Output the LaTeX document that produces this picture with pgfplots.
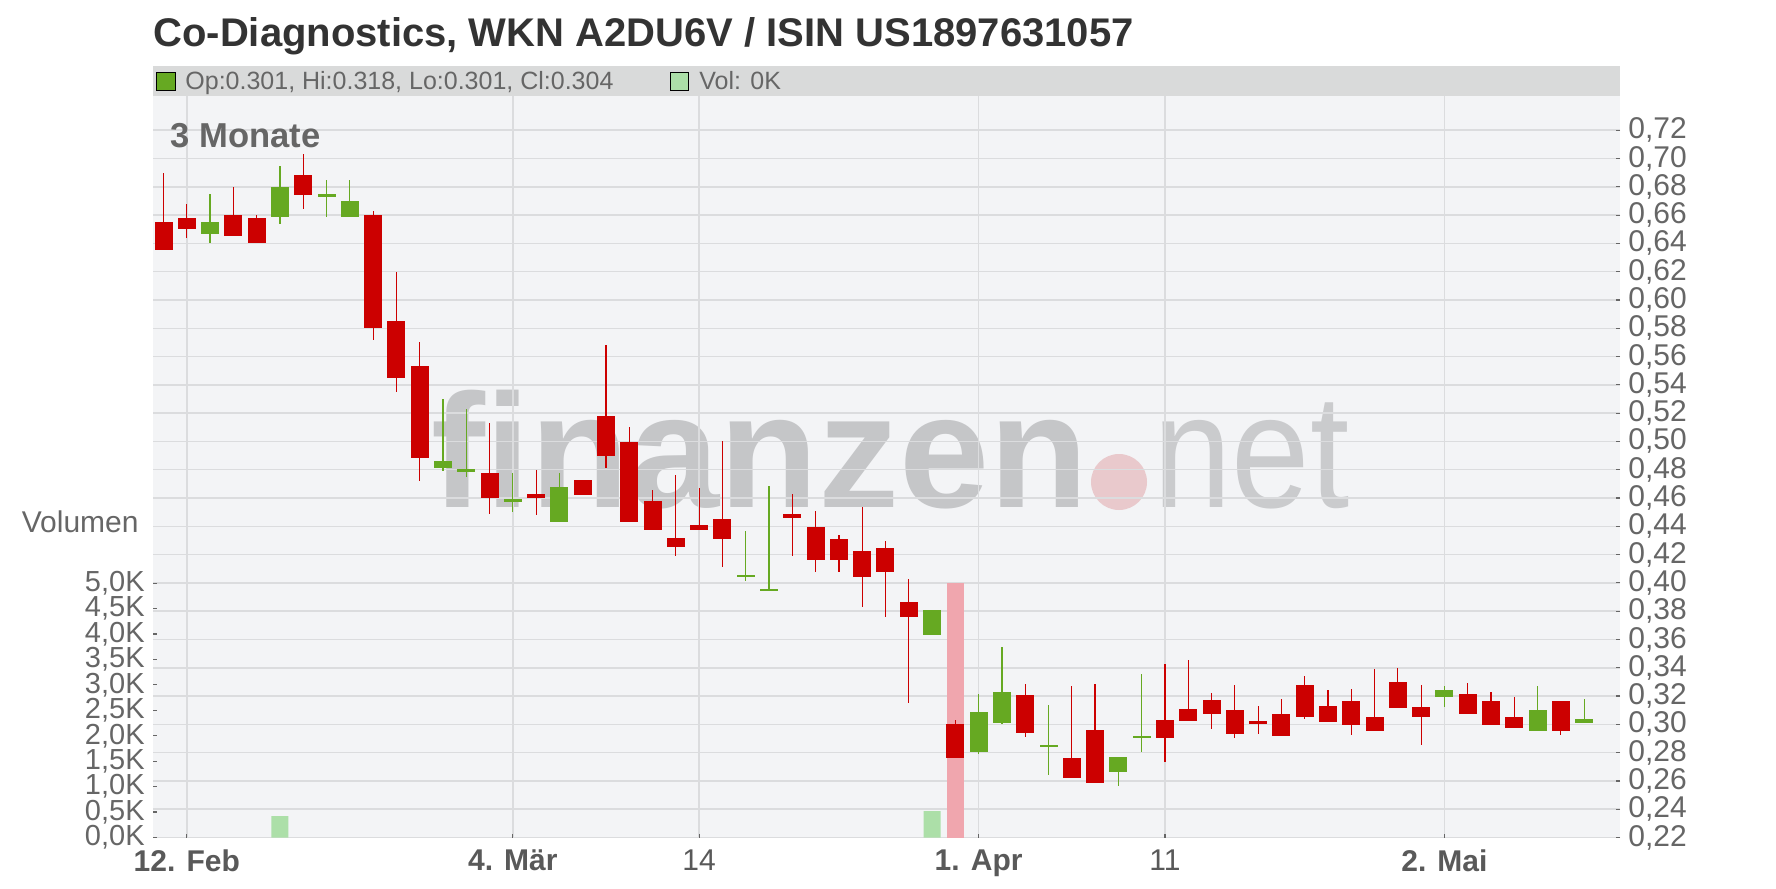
\documentclass[border=0pt]{standalone}
\usepackage{pgfplots}
\pgfplotsset{compat=1.18}
\usepackage{pgfplotstable}
\usepackage{fontspec}
\setmainfont{Liberation Sans}

\definecolor{titlec}{HTML}{333333}
\definecolor{txtc}{HTML}{666666}
\definecolor{xlabc}{HTML}{595959}
\definecolor{legbar}{HTML}{D9DADA}
\definecolor{plotbg}{HTML}{F3F4F6}
\definecolor{gridc}{HTML}{DBDCDE}
\definecolor{tickc}{HTML}{666666}
\definecolor{cRed}{HTML}{CC0000}
\definecolor{cGreen}{HTML}{66A922}
\definecolor{vGreen}{HTML}{ACDFA8}
\definecolor{vRed}{HTML}{F0A6AE}
\definecolor{wm}{HTML}{C5C6C8}
\definecolor{wm2}{HTML}{CACBCD}
\definecolor{wmdot}{HTML}{E9C9CC}

% candles: x = trading day index, o h l c
\pgfplotstableread{
x o h l c
0 0.655 0.690 0.635 0.635
1 0.658 0.668 0.644 0.650
3 0.660 0.680 0.645 0.645
4 0.658 0.660 0.640 0.640
6 0.688 0.703 0.664 0.674
9 0.660 0.663 0.572 0.580
10 0.585 0.620 0.535 0.545
11 0.553 0.570 0.472 0.488
14 0.478 0.513 0.449 0.460
16 0.4625 0.480 0.448 0.460
18 0.473 0.473 0.462 0.462
19 0.518 0.568 0.481 0.490
20 0.4995 0.5105 0.443 0.443
21 0.458 0.466 0.4376 0.4376
22 0.432 0.476 0.419 0.4255
23 0.441 0.467 0.4376 0.4376
24 0.445 0.500 0.411 0.431
27 0.4487 0.4628 0.4192 0.4458
28 0.4395 0.4508 0.4079 0.4164
29 0.431 0.4338 0.4079 0.4164
30 0.4225 0.4536 0.3831 0.4043
31 0.4246 0.4296 0.376 0.4079
32 0.3864 0.4027 0.3152 0.376
34 0.3001 0.3029 0.2763 0.2763
37 0.3206 0.3284 0.2911 0.294
39 0.276 0.327 0.2621 0.2621
40 0.2959 0.3284 0.2586 0.2586
43 0.3029 0.3425 0.2731 0.2904
44 0.3107 0.3454 0.3025 0.3025
45 0.3169 0.3219 0.2966 0.3072
46 0.3098 0.3275 0.2903 0.2931
47 0.3022 0.3127 0.2931 0.3003
48 0.307 0.3176 0.2917 0.2917
49 0.3275 0.3339 0.3037 0.3049
50 0.3127 0.324 0.3016 0.3016
51 0.3162 0.3247 0.2924 0.2995
52 0.3049 0.3388 0.2952 0.2952
53 0.3296 0.3396 0.3115 0.3115
54 0.312 0.3275 0.2853 0.3051
56 0.3212 0.3289 0.3072 0.3072
57 0.3162 0.3226 0.2995 0.2995
58 0.3049 0.319 0.2973 0.2973
60 0.3162 0.3162 0.2924 0.2952
}\redtab

\pgfplotstableread{
x o h l c
2 0.647 0.675 0.640 0.655
5 0.659 0.695 0.654 0.680
7 0.673 0.685 0.659 0.675
8 0.659 0.685 0.659 0.670
12 0.481 0.530 0.479 0.486
13 0.4785 0.523 0.475 0.4805
15 0.457 0.478 0.450 0.459
17 0.443 0.478 0.443 0.468
25 0.404 0.437 0.4015 0.4055
26 0.394 0.4685 0.394 0.3955
33 0.3633 0.3807 0.3633 0.3807
35 0.2805 0.3218 0.2791 0.3086
36 0.3011 0.3546 0.3006 0.3227
38 0.2841 0.3136 0.2643 0.2855
41 0.2664 0.2767 0.2565 0.2767
42 0.2904 0.3354 0.2805 0.2918
55 0.3193 0.3268 0.3122 0.324
59 0.2952 0.3268 0.2952 0.3098
61 0.301 0.318 0.301 0.304
}\greentab

\pgfplotsset{
  base/.style={at={(76.5pt,-48pt)}, anchor=north west, scale only axis,
    width=733.5pt, height=370.75pt, xmin=-0.451, xmax=62.54,
    axis line style={draw=none}, clip=false},
  wick/.style={draw=none, mark=none, forget plot,
    error bars/.cd, y dir=both, y explicit, error mark=none,
    error bar style={line width=0.6pt, line cap=butt, draw=#1}},
  body/.style={draw=none, mark=none, forget plot,
    error bars/.cd, y dir=both, y explicit, error mark=none,
    error bar style={line width=9pt, line cap=butt, draw=#1}},
}

\begin{document}
\begin{tikzpicture}
\useasboundingbox (0,0) rectangle (888pt,-444pt);
\fill[white] (0,0) rectangle (888pt,-444pt);
% title
\node[anchor=base west, inner sep=0pt, text=titlec, font=\fontsize{20}{24}\selectfont\bfseries] at (76.5pt,-23.5pt) {Co-Diagnostics, WKN A2DU6V / ISIN US1897631057};
% legend bar
\fill[legbar] (76.5pt,-33pt) rectangle (810pt,-48pt);
\filldraw[fill=cGreen, draw=black, line width=0.5pt] (78.25pt,-36.25pt) rectangle (87.75pt,-45.25pt);
\node[anchor=base west, inner sep=0pt, text=txtc, font=\fontsize{12.5}{14}\selectfont] at (92.5pt,-45pt) {Op:0.301, Hi:0.318, Lo:0.301, Cl:0.304};
\filldraw[fill=vGreen, draw=black, line width=0.5pt] (335.25pt,-36.25pt) rectangle (344pt,-45.25pt);
\node[anchor=base west, inner sep=0pt, text=txtc, font=\fontsize{12.5}{14}\selectfont] at (349.5pt,-45pt) {Vol: 0K};
% plot background
\fill[plotbg] (76.5pt,-48pt) rectangle (810pt,-418.75pt);
% watermark
\node[anchor=base west, inner sep=0pt, text=wm, font=\fontsize{81}{81}\selectfont\bfseries] at (215.5pt,-253.5pt) {finanzen};
\fill[wmdot] (559.5pt,-241pt) circle (14pt);
\node[anchor=base west, inner sep=0pt, text=wm2, xscale=0.87, font=\fontsize{81}{81}\selectfont] at (576.5pt,-253.5pt) {net};

% price axis: grid and labels
\begin{axis}[base, ymin=0.22, ymax=0.7442,
  ytick={0.22,0.24,0.26,0.28,0.30,0.32,0.34,0.36,0.38,0.40,0.42,0.44,0.46,0.48,0.50,0.52,0.54,0.56,0.58,0.60,0.62,0.64,0.66,0.68,0.70,0.72},
  yticklabels={{0,22},{0,24},{0,26},{0,28},{0,30},{0,32},{0,34},{0,36},{0,38},{0,40},{0,42},{0,44},{0,46},{0,48},{0,50},{0,52},{0,54},{0,56},{0,58},{0,60},{0,62},{0,64},{0,66},{0,68},{0,70},{0,72}},
  ytick pos=right, yticklabel pos=right,
  xtick={1,15,23,35,43,55},
  xticklabels={\textbf{12. Feb},\textbf{4. Mär},14,\textbf{1. Apr},11,\textbf{2. Mai}},
  xtick pos=bottom,
  grid=major, grid style={draw=gridc, line width=0.75pt},
  tick align=inside, major tick length=2pt,
  tick style={draw=tickc, line width=0.6pt},
  yticklabel style={anchor=west, inner sep=0pt, xshift=4pt, font=\fontsize{15}{15}\selectfont, text=txtc},
  xticklabel style={anchor=north, inner sep=0pt, yshift=-6pt, font=\fontsize{15}{15}\selectfont, text=xlabc},
]
\end{axis}

% volume axis
\begin{axis}[base, ymin=0, ymax=14574, scaled y ticks=false,
  ytick={0,500,1000,1500,2000,2500,3000,3500,4000,4500,5000},
  yticklabels={{0,0K},{0,5K},{1,0K},{1,5K},{2,0K},{2,5K},{3,0K},{3,5K},{4,0K},{4,5K},{5,0K}},
  ytick pos=left, yticklabel pos=left, xtick=\empty,
  tick align=inside, major tick length=2pt,
  tick style={draw=tickc, line width=0.6pt},
  yticklabel style={anchor=east, inner sep=0pt, xshift=-4pt, font=\fontsize{14.5}{14.5}\selectfont, text=txtc},
  ybar, bar width=8.5pt,
]
\addplot[fill=vGreen, draw=none, bar shift=0pt] coordinates {(5,420) (33,520)};
\addplot[fill=vRed, draw=none, bar shift=0pt] coordinates {(34,5000)};
\end{axis}

% candles
\begin{axis}[base, ymin=0.22, ymax=0.7442, hide axis]
\addplot[wick=cRed] table[x=x, y expr={(\thisrow{h}+\thisrow{l})/2},
  y error plus expr={(\thisrow{h}-\thisrow{l})/2},
  y error minus expr={(\thisrow{h}-\thisrow{l})/2}] {\redtab};
\addplot[wick=cGreen] table[x=x, y expr={(\thisrow{h}+\thisrow{l})/2},
  y error plus expr={(\thisrow{h}-\thisrow{l})/2},
  y error minus expr={(\thisrow{h}-\thisrow{l})/2}] {\greentab};
\addplot[body=cRed] table[x=x, y expr={(\thisrow{o}+\thisrow{c})/2},
  y error plus expr={(\thisrow{o}-\thisrow{c})/2},
  y error minus expr={(\thisrow{o}-\thisrow{c})/2}] {\redtab};
\addplot[body=cGreen] table[x=x, y expr={(\thisrow{o}+\thisrow{c})/2},
  y error plus expr={(\thisrow{c}-\thisrow{o})/2},
  y error minus expr={(\thisrow{c}-\thisrow{o})/2}] {\greentab};
\end{axis}

\node[anchor=base west, inner sep=0pt, text=txtc, font=\fontsize{17.3}{20}\selectfont\bfseries] at (85pt,-74pt) {3 Monate};
\node[anchor=base east, inner sep=0pt, text=txtc, font=\fontsize{15}{15}\selectfont] at (69.5pt,-266pt) {Volumen};
\end{tikzpicture}
\end{document}
